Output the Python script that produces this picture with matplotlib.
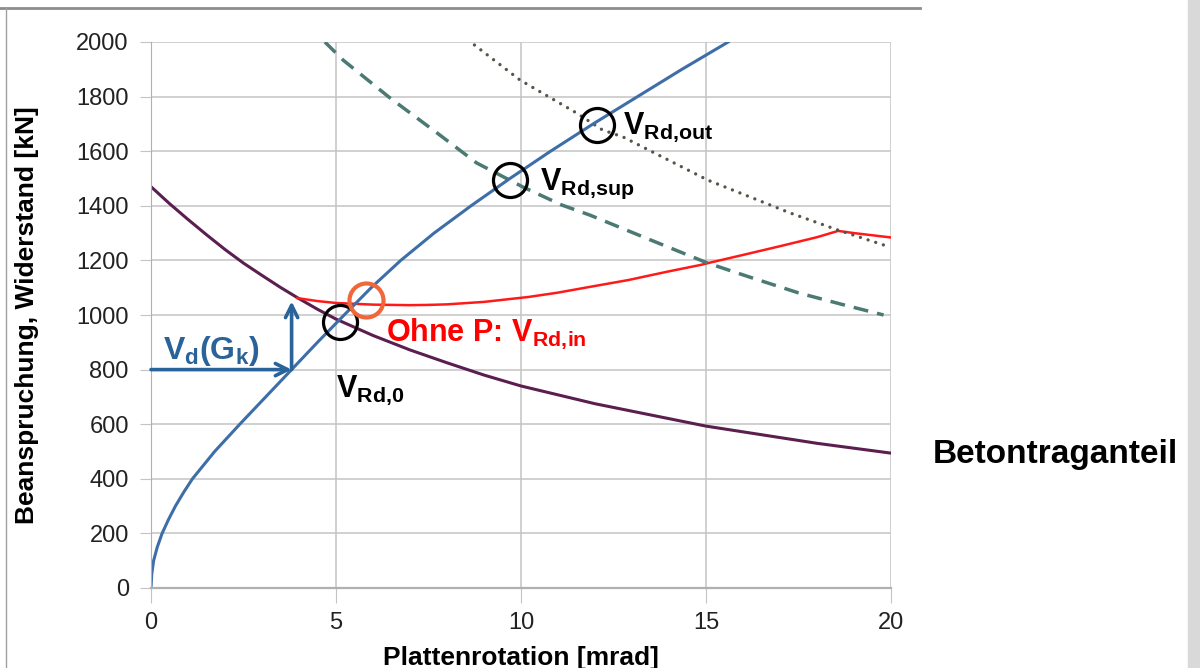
import matplotlib
matplotlib.use("Agg")
import matplotlib.pyplot as plt
from matplotlib.lines import Line2D
from matplotlib.patches import Rectangle

plt.rcParams["font.family"] = ["Liberation Sans", "DejaVu Sans"]
plt.rcParams["mathtext.fontset"] = "custom"
plt.rcParams["mathtext.rm"] = "Liberation Sans"
plt.rcParams["mathtext.bf"] = "Liberation Sans:bold"
plt.rcParams["mathtext.it"] = "Liberation Sans:italic"

# Data

# Last-Rotations-Kurve (blue)
load_x = [0, 0.02, 0.07, 0.17, 0.3, 0.47, 0.66, 0.88, 1.12, 1.72, 2.4, 3.1,
          3.8, 4.5, 5.22, 5.95, 6.75, 7.65, 8.65, 9.7, 10.8, 11.95, 13.15,
          14.35, 15.6]
load_y = [0, 50, 100, 150, 200, 250, 300, 350, 400, 500, 600, 700, 800, 900,
          1000, 1100, 1200, 1300, 1400, 1500, 1600, 1700, 1800, 1900, 2000]

# Betontraganteil (purple)
conc_x = [0, 0.5, 1, 1.5, 2, 2.5, 3, 3.5, 4, 4.5, 5, 6, 7, 8, 9, 10, 12, 15,
          18, 20]
conc_y = [1470, 1408, 1350, 1294, 1240, 1190, 1145, 1101, 1060, 1021, 985,
          925, 872, 825, 780, 740, 675, 593, 530, 494]

# Ohne P: VRd,in (red)
vin_x = [3.95, 4.5, 5, 6, 7, 7.5, 8, 9, 10.2, 11, 11.86, 12.9, 14, 14.84,
         15.05, 16, 17, 18, 18.57, 19, 20]
vin_y = [1062, 1051, 1044, 1038, 1036, 1037, 1039, 1048, 1066, 1082, 1103,
         1128, 1160, 1183, 1190, 1220, 1252, 1285, 1308, 1300, 1284]

# VRd,sup (dashed)
vsup_x = [4.7, 5.19, 6.46, 7.73, 8.8, 10.05, 11.1, 11.86, 13.5, 15.05, 16.2,
          17.5, 18.7, 19.8]
vsup_y = [2000, 1934, 1795, 1667, 1557, 1469, 1403, 1366, 1275, 1190, 1138,
          1081, 1038, 1000]

# VRd,out (dotted)
vout_x = [8.57, 9.97, 11.5, 12.2, 12.76, 15.05, 17.27, 18.57, 19.97]
vout_y = [2007, 1861, 1740, 1678, 1652, 1494, 1374, 1311, 1249]

# Marked intersections
marks_x = [5.1, 9.7, 12.05]
marks_y = [975, 1494, 1696]
orange_x = [5.8]
orange_y = [1055]

# Vd(Gk) arrows
vd_x = 3.8
vd_y = 800
vd_top = 1050

x_ticks = [0, 5, 10, 15, 20]
y_ticks = [0, 200, 400, 600, 800, 1000, 1200, 1400, 1600, 1800, 2000]

# Figure

fig = plt.figure(figsize=(12, 6.68), dpi=100)

# slide decoration
fig.add_artist(Line2D([0, 920 / 1200], [1 - 8 / 668, 1 - 8 / 668],
                      color="#8c8c8c", linewidth=2))
fig.add_artist(Line2D([6 / 1200, 6 / 1200], [0, 1 - 8 / 668],
                      color="#a0a0a0", linewidth=1))
fig.add_artist(Rectangle((1188 / 1200, 0), 12 / 1200, 1,
                         color="#d9d9d9", transform=fig.transFigure))

ax = fig.add_axes([151 / 1200, 80 / 668, 740 / 1200, 546 / 668])

ax.plot(conc_x, conc_y, color="#5b1f4f", linewidth=2.2)
ax.plot(vin_x, vin_y, color="#ff1a1a", linewidth=1.8)
ax.plot(vsup_x, vsup_y, color="#4b7a73", linewidth=2.5,
        linestyle=(0, (4.3, 2.6)))
ax.plot(vout_x, vout_y, color="#55554a", linewidth=2.4,
        linestyle=(0, (0.01, 2.4)), dash_capstyle="round")
ax.plot(load_x, load_y, color="#3d6ea8", linewidth=2.2)

# circles
ax.plot(marks_x, marks_y, linestyle="none", marker="o", markersize=24.5,
        markerfacecolor="none", markeredgecolor="black", markeredgewidth=2.3)
ax.plot(orange_x, orange_y, linestyle="none", marker="o", markersize=24.5,
        markerfacecolor="none", markeredgecolor="#f0683a", markeredgewidth=3)

# Vd(Gk) arrows
arrow_color = "#2a6399"
ax.annotate("", xy=(vd_x, vd_y), xytext=(0, vd_y),
            arrowprops=dict(arrowstyle="->", color=arrow_color, lw=2.6,
                            mutation_scale=22, shrinkA=0, shrinkB=0))
ax.annotate("", xy=(vd_x, vd_top), xytext=(vd_x, vd_y),
            arrowprops=dict(arrowstyle="->", color=arrow_color, lw=2.6,
                            mutation_scale=22, shrinkA=0, shrinkB=0))

# labels
ax.text(0.33, 840, r"$\mathbf{V_d(G_k)}$", color=arrow_color, fontsize=23)
ax.text(6.35, 905, r"Ohne P: $\mathbf{V_{Rd,\!in}}$", color="#ff0000",
        fontsize=22, fontweight="bold")
ax.text(5.0, 700, r"$\mathbf{V_{Rd,\!0}}$", color="black", fontsize=22)
ax.text(10.5, 1460, r"$\mathbf{V_{Rd,\!sup}}$", color="black", fontsize=22)
ax.text(12.75, 1665, r"$\mathbf{V_{Rd,\!out}}$", color="black", fontsize=22)
fig.text(933 / 1200, 1 - 463 / 668, "Betontraganteil", fontsize=24,
         fontweight="bold", color="black")

# axes styling
ax.set_xlim(0, 20)
ax.set_ylim(0, 2000)
ax.set_xticks(x_ticks)
ax.set_yticks(y_ticks)
ax.grid(True, color="#c4c4c4", linewidth=1.1)
ax.set_axisbelow(True)
for side in ["top", "right"]:
    ax.spines[side].set_visible(False)
ax.spines["left"].set_color("#b0b0b0")
ax.spines["bottom"].set_color("#b0b0b0")
ax.spines["bottom"].set_linewidth(1.6)
ax.tick_params(axis="y", length=8, color="#c4c4c4", labelsize=17,
               labelcolor="#222222", pad=8)
ax.tick_params(axis="x", length=11, color="#c4c4c4", labelsize=17,
               labelcolor="#222222", pad=6)

ax.set_xlabel("Plattenrotation [mrad]", fontsize=19, fontweight="bold",
              labelpad=9)
ax.set_ylabel("Beanspruchung, Widerstand [kN]", fontsize=19,
              fontweight="bold")
ax.yaxis.set_label_coords(-0.152, 0.5)

plt.savefig("out.png", dpi=100)
plt.close()
